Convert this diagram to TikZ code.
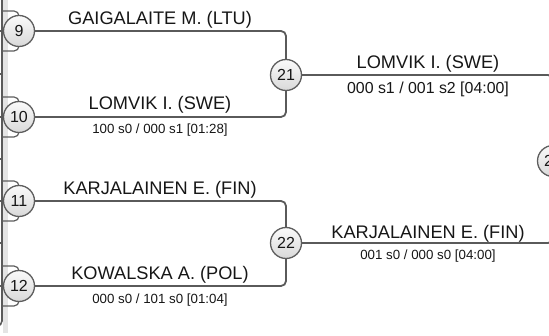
\documentclass[tikz,border=0pt]{standalone}
\usepackage{fontspec}
\setmainfont{Liberation Sans}
\usetikzlibrary{backgrounds}
\definecolor{lc}{HTML}{5A5A5A}
\definecolor{cc}{HTML}{5E5E5E}
\definecolor{tc}{HTML}{161616}
\definecolor{band}{HTML}{E4E4E4}
\begin{document}
\begin{tikzpicture}[x=1pt,y=-1pt,
  ln/.style={draw=lc, line width=1.8pt},
  thin ln/.style={draw=cc, line width=1.2pt},
  mnum/.style={circle, draw=cc, line width=1.3pt, top color=gray!4, bottom color=gray!30,
    minimum size=31pt, inner sep=0pt, text=tc, font=\fontsize{16}{16}\selectfont},
  nm/.style={anchor=base, inner sep=0pt, text=tc, font=\fontsize{18.2}{18}\selectfont},
  sc/.style={anchor=base, inner sep=0pt, text=tc, font=\fontsize{13.3}{14}\selectfont},
  scbig/.style={anchor=base, inner sep=0pt, text=tc, font=\fontsize{15.9}{16}\selectfont}]
\useasboundingbox (0,0) rectangle (549,336);
\clip (0,0) rectangle (549,336);

% match circles
\node[mnum] (c9)  at (19,31)  {9};
\node[mnum] (c10) at (19,117) {10};
\node[mnum] (c11) at (19,201) {11};
\node[mnum] (c12) at (19,286) {12};
\node[mnum] (c21) at (286,75) {21};
\node[mnum] (c22) at (286,243) {22};
\node[mnum] (c2x) at (553,161) {2\phantom{0}};

% left-edge coordinates
\foreach \n/\y in {9/31,10/117,11/201,12/286}{
  \coordinate (l\n) at (-2,\y);
  \coordinate (ta\n) at (2,\y-20);
  \coordinate (ba\n) at (2,\y+20);
}
\coordinate (topl) at (2,-3);
\coordinate (botl) at (-6,326);

\begin{scope}[on background layer]
  \fill[band] (3,-1) rectangle (8,333);
  \draw[ln, line width=1.6pt, rounded corners=5pt] (topl) |- (botl);
  \foreach \y in {74,159,243}{ \draw[ln, line width=1.2pt] (-1,\y) -- (2,\y); }
  \foreach \n in {9,10,11,12}{
    \draw[ln] (l\n) -- (c\n);
    \draw[thin ln, rounded corners=5pt] (ta\n) -| (c\n.center);
    \draw[thin ln, rounded corners=5pt] (ba\n) -| (c\n.center);
  }
  \draw[ln, rounded corners=5pt] (c9.east) -| (c21.north);
  \draw[ln, rounded corners=5pt] (c10.east) -| (c21.south);
  \draw[ln, rounded corners=5pt] (c11.east) -| (c22.north);
  \draw[ln, rounded corners=5pt] (c12.east) -| (c22.south);
  \draw[ln, rounded corners=5pt] (c21.east) -| (c2x.north);
  \draw[ln, rounded corners=5pt] (c22.east) -| (c2x.south);
\end{scope}

% round 1 labels
\node[nm] (n9)  at (160,24.3)  {GAIGALAITE M. (LTU)};
\node[nm] (n10) at (160,110)   {LOMVIK I. (SWE)};
\node[sc] (s10) at (160,134)   {100 s0 / 000 s1 [01:28]};
\node[nm] (n11) at (160,195)   {KARJALAINEN E. (FIN)};
\node[nm] (n12) at (160,279.3) {KOWALSKA A. (POL)};
\node[sc] (s12) at (160,303.3) {000 s0 / 101 s0 [01:04]};

% round 2 labels
\node[nm]    (n21) at (428,68.3)  {LOMVIK I. (SWE)};
\node[scbig] (s21) at (428,93.3)  {000 s1 / 001 s2 [04:00]};
\node[nm]    (n22) at (428,238.3) {KARJALAINEN E. (FIN)};
\node[sc]    (s22) at (428,259.3) {001 s0 / 000 s0 [04:00]};
\end{tikzpicture}
\end{document}
